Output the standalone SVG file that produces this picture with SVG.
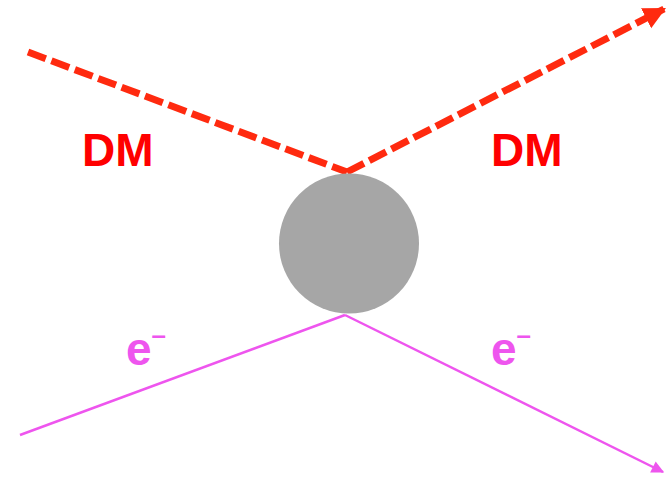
<svg xmlns="http://www.w3.org/2000/svg" width="667" height="480" viewBox="0 0 667 480">
<defs>
<style>
.dm{fill:none;stroke:#ff2a0f;stroke-width:7;stroke-dasharray:19 6}
.el{fill:none;stroke:#ee55ee;stroke-width:2.5}
.lbl{font-family:"Liberation Sans",Arial,sans-serif;font-weight:bold;font-size:46px}
</style>
<marker id="ar" viewBox="0 0 10 10" refX="9" refY="5" markerWidth="3.2" markerHeight="3.6" markerUnits="strokeWidth" orient="auto"><path d="M0,0 L10,5 L0,10 z" fill="#ff2a0f"/></marker>
<marker id="am" viewBox="0 0 10 10" refX="9" refY="5" markerWidth="6" markerHeight="5" markerUnits="strokeWidth" orient="auto"><path d="M0,0 L10,5 L0,10 z" fill="#ee55ee"/></marker>
</defs>
<g id="connectors">
<path class="dm" d="M28,52 L347,172"/>
<path class="dm" d="M347,172 L664,9" marker-end="url(#ar)"/>
<path class="el" d="M20,435 L345,315"/>
<path class="el" d="M345,315 L663,472" marker-end="url(#am)"/>
</g>
<g id="blob"><circle cx="349" cy="243.5" r="70" fill="#a6a6a6"/></g>
<g id="dm-in"><text class="lbl" x="82" y="166" fill="#ff0000">DM</text></g>
<g id="dm-out"><text class="lbl" x="491" y="166" fill="#ff0000">DM</text></g>
<g id="e-in"><text class="lbl" x="126" y="365" fill="#ee55ee">e<tspan font-size="26" dy="-21">–</tspan></text></g>
<g id="e-out"><text class="lbl" x="491" y="365" fill="#ee55ee">e<tspan font-size="26" dy="-21">–</tspan></text></g>
</svg>
